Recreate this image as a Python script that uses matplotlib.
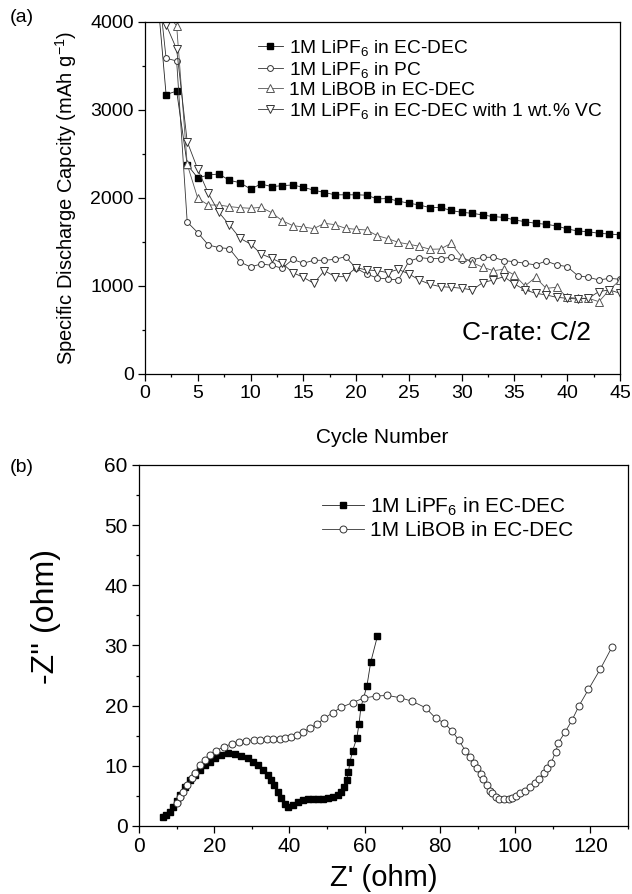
import matplotlib.pyplot as plt
from matplotlib.ticker import MultipleLocator

plt.rcParams['font.family'] = ['Liberation Sans', 'DejaVu Sans']
plt.rcParams['mathtext.fontset'] = 'custom'
plt.rcParams['mathtext.rm'] = 'Liberation Sans'
plt.rcParams['mathtext.it'] = 'Liberation Sans'

# ---------- (a) cycling data ----------
cycles = list(range(1, 46))
lipf6_ecdec = [4550, 3175, 3215, 2380, 2227, 2261, 2273, 2200, 2174, 2102,
               2159, 2129, 2140, 2148, 2121, 2089, 2062, 2036, 2036, 2036,
               2032, 1989, 1994, 1964, 1941, 1920, 1890, 1892, 1858, 1837,
               1826, 1807, 1788, 1780, 1750, 1731, 1712, 1701, 1682, 1648,
               1625, 1617, 1598, 1591, 1580]
lipf6_pc = [4700, 3588, 3557, 1727, 1606, 1466, 1436, 1424, 1273, 1216,
            1250, 1235, 1201, 1303, 1258, 1292, 1292, 1303, 1333, 1201,
            1136, 1091, 1080, 1068, 1280, 1322, 1311, 1311, 1326, 1295,
            1295, 1326, 1326, 1288, 1276, 1258, 1239, 1284, 1239, 1220,
            1117, 1099, 1068, 1087, 1076]
libob_ecdec = [5000, 4100, 3958, 2383, 1996, 1920, 1920, 1902, 1890, 1883,
               1894, 1833, 1742, 1686, 1670, 1652, 1712, 1697, 1655, 1644,
               1636, 1572, 1538, 1496, 1474, 1451, 1417, 1420, 1485, 1333,
               1265, 1213, 1174, 1189, 1125, 1000, 1098, 973, 985, 871,
               860, 860, 822, 955, 1068]
lipf6_vc = [4800, 3970, 3690, 2640, 2326, 2053, 1837, 1693, 1542, 1477,
            1364, 1314, 1258, 1152, 1098, 1030, 1174, 1106, 1106, 1208,
            1182, 1174, 1152, 1189, 1136, 1068, 1019, 992, 985, 974,
            955, 1038, 1068, 1106, 1022, 955, 917, 898, 871, 860,
            852, 860, 936, 955, 917]

# ---------- (b) impedance data ----------
zre_lipf6 = [6.4, 7.3, 8.2, 9.1, 10.0, 10.9, 12.2, 13.5, 14.8, 16.2,
             17.5, 18.8, 20.1, 21.9, 23.7, 25.4, 27.2, 29.0, 30.3, 31.6,
             32.9, 34.3, 35.2, 36.0, 36.9, 37.8, 38.7, 39.6, 40.9, 42.2,
             43.5, 44.9, 46.2, 47.5, 48.8, 50.2, 51.5, 52.8, 53.7, 54.6,
             55.2, 55.7, 56.1, 56.8, 57.9, 58.5, 59.0, 60.6, 61.6, 63.4]
zim_lipf6 = [1.55, 1.83, 2.38, 3.21, 4.21, 5.15, 6.53, 7.64, 8.47, 9.30,
             10.13, 10.68, 11.24, 11.79, 12.07, 11.96, 11.68, 11.24, 10.68, 10.13,
             9.30, 8.47, 7.64, 6.81, 5.70, 4.60, 3.65, 3.21, 3.49, 4.04,
             4.32, 4.43, 4.48, 4.43, 4.48, 4.60, 4.87, 5.15, 5.70, 6.53,
             7.64, 9.02, 10.68, 12.51, 14.57, 16.94, 19.72, 23.26, 27.19, 31.56]

zre_libob = [10.0, 10.9, 11.7, 12.8, 14.0, 14.8, 16.2, 17.5, 18.8, 20.6,
             22.5, 24.6, 26.6, 28.5, 30.5, 32.3, 34.1, 35.6, 37.4, 38.7,
             40.5, 42.0, 43.7, 45.5, 47.3, 49.3, 51.5, 53.7, 56.8, 59.7,
             63.0, 66.0, 69.4, 72.7, 76.2, 78.9, 81.2, 83.3, 85.0, 86.8,
             87.9, 89.0, 89.9, 90.8, 91.5, 92.4, 93.2, 93.9, 94.8, 95.6,
             97.0, 98.3, 99.3, 100.3, 101.4, 102.7, 104.0, 105.3, 106.4, 107.6,
             108.6, 109.6, 110.8, 111.5, 113.3, 115.1, 117.0, 119.5, 122.6, 125.8]
zim_libob = [3.8, 4.87, 5.70, 6.81, 7.92, 8.75, 10.13, 10.96, 11.79, 12.51,
             13.18, 13.62, 14.01, 14.18, 14.29, 14.29, 14.40, 14.40, 14.51, 14.57,
             14.84, 15.17, 15.67, 16.23, 16.94, 17.89, 18.83, 19.70, 20.50, 21.26,
             21.59, 21.70, 21.32, 20.71, 19.65, 17.89, 17.11, 15.72, 14.29, 12.46,
             11.41, 10.52, 9.58, 8.64, 7.75, 6.81, 5.87, 5.43, 4.76, 4.43,
             4.43, 4.43, 4.71, 4.98, 5.43, 5.81, 6.53, 7.20, 7.86, 8.75,
             9.58, 10.52, 12.35, 13.84, 15.61, 17.55, 19.99, 22.70, 26.02, 29.79]

fig = plt.figure(figsize=(6.32, 8.94), dpi=100)

def style_axes(ax, tick_size):
    for s in ax.spines.values():
        s.set_linewidth(0.9)
    ax.tick_params(which='both', direction='out', top=False, right=False,
                   labelsize=tick_size, width=0.9, pad=3)
    ax.tick_params(which='major', length=5)
    ax.tick_params(which='minor', length=2.5)

# ================== (a) ==================
ax1 = fig.add_axes([0.2294, 0.5817, 0.7516, 0.3937])
lw = 0.6
ax1.plot(cycles, lipf6_ecdec, '-', color='#222222', lw=lw, marker='s', ms=4.2,
         mfc='black', mec='black', label='1M LiPF$_6$ in EC-DEC')
ax1.plot(cycles, lipf6_pc, '-', color='#333333', lw=lw, marker='o', ms=4.2,
         mfc='white', mec='#333333', mew=0.7, label='1M LiPF$_6$ in PC')
ax1.plot(cycles, libob_ecdec, '-', color='#555555', lw=lw, marker='^', ms=5.2,
         mfc='white', mec='#555555', mew=0.7, label='1M LiBOB in EC-DEC')
ax1.plot(cycles, lipf6_vc, '-', color='#333333', lw=lw, marker='v', ms=5.2,
         mfc='white', mec='#333333', mew=0.7, label='1M LiPF$_6$ in EC-DEC with 1 wt.% VC')
ax1.set_xlim(0, 45)
ax1.set_ylim(0, 4000)
ax1.xaxis.set_major_locator(MultipleLocator(5))
ax1.xaxis.set_minor_locator(MultipleLocator(2.5))
ax1.yaxis.set_major_locator(MultipleLocator(1000))
ax1.yaxis.set_minor_locator(MultipleLocator(500))
style_axes(ax1, 14)
ax1.set_xlabel('Cycle Number', fontsize=15, labelpad=19)
ax1.set_ylabel('Specific Discharge Capcity (mAh g$^{-1}$)', fontsize=14.5, labelpad=8)
ax1.legend(loc='upper left', bbox_to_anchor=(0.238, 0.955), frameon=False,
           fontsize=13.8, handlelength=1.3, handletextpad=0.3, labelspacing=0.1,
           borderpad=0, borderaxespad=0)
ax1.text(42.3, 470, 'C-rate: C/2', fontsize=19, ha='right', va='center')

# ================== (b) ==================
ax2 = fig.add_axes([0.2199, 0.0761, 0.7737, 0.4038])
ax2.plot(zre_lipf6, zim_lipf6, '-', color='#222222', lw=lw, marker='s', ms=4.5,
         mfc='black', mec='black', label='1M LiPF$_6$ in EC-DEC')
ax2.plot(zre_libob, zim_libob, '-', color='#333333', lw=lw, marker='o', ms=5,
         mfc='white', mec='#333333', mew=0.7, label='1M LiBOB in EC-DEC')
ax2.set_xlim(0, 130)
ax2.set_ylim(0, 60)
ax2.xaxis.set_major_locator(MultipleLocator(20))
ax2.xaxis.set_minor_locator(MultipleLocator(10))
ax2.yaxis.set_major_locator(MultipleLocator(10))
ax2.yaxis.set_minor_locator(MultipleLocator(5))
style_axes(ax2, 15)
ax2.set_xlabel("Z' (ohm)", fontsize=21, labelpad=6)
ax2.set_ylabel("-Z'' (ohm)", fontsize=23, labelpad=14)
ax2.yaxis.set_label_coords(-0.16, 0.58)
ax2.legend(loc='upper left', bbox_to_anchor=(0.374, 0.915), frameon=False,
           fontsize=15, handlelength=2.0, handletextpad=0.3, labelspacing=0.15,
           borderpad=0, borderaxespad=0)

fig.text(0.016, 1 - 18 / 894, '(a)', fontsize=14, va='center')
fig.text(0.016, 1 - 468 / 894, '(b)', fontsize=14, va='center')

fig.savefig('out.png', dpi=100)
